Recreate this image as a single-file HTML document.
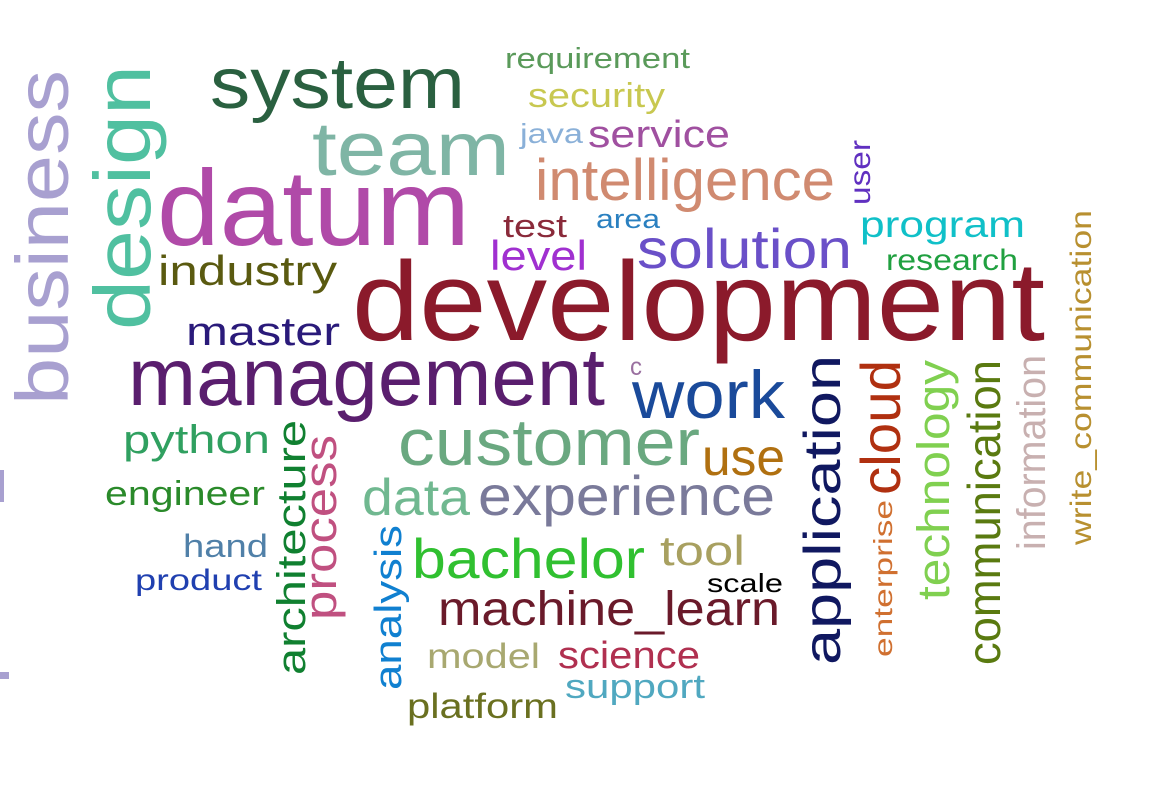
<!DOCTYPE html>
<html><head><meta charset="utf-8"><style>
html,body{margin:0;padding:0;background:#fff;}
svg{display:block;}
text{font-family:"Liberation Sans","DejaVu Sans",sans-serif;}
</style></head><body>
<svg id="cloud" width="1160" height="799" viewBox="0 0 1160 799">
<rect x="0" y="0" width="1160" height="799" fill="#fff"/>
<rect x="0" y="470" width="4" height="32" fill="#a8a0d0"/>
<rect x="0" y="672" width="9" height="7" fill="#a8a0d0"/>
</svg>
<script>
const words = ["development","management","datum","system","team","customer","experience","work","solution","intelligence","service","java","security","requirement","test","area","level","program","research","user","industry","master","business","design","python","engineer","hand","product","architecture","process","data","analysis","bachelor","machine_learn","model","science","support","platform","tool","scale","use","c","application","cloud","enterprise","technology","communication","information","write_communication"];
const sizes = [112,82,108,72,76,66,56,68,56,58,38,28,34,29,32,27,42,37,30,30,42,40,74,80,40,34,32,30,40,45,52,38,56,48,35,38,34,35,42,26,52,25,52,56,26,45,46,40,30];
const colors = ["#8b1a2b","#5a1e6e","#b04aa8","#2a6040","#7fb5a5","#6aa880","#7a7a9a","#1a4a9a","#6a50c8","#d08a70","#a050a0","#8ab0d8","#c8c850","#5a9a5a","#8a2a3a","#2a80c0","#a030d0","#10c0c8","#20a040","#6030c0","#5a5a10","#2a1a7a","#a8a0d0","#50c0a0","#30a060","#2a8a2a","#5080a8","#2040b0","#108030","#c05080","#70b890","#1080d0","#30c030","#6a1a2a","#a8a870","#b03050","#50a8c0","#6a7020","#a8a060","#000000","#b07010","#9a70a0","#101860","#b03010","#d07030","#80d050","#5a7a10","#c8b0b0","#b89030"];
const vertical = [0,0,0,0,0,0,0,0,0,0,0,0,0,0,0,0,0,0,0,1,0,0,1,1,0,0,0,0,1,1,0,1,0,0,0,0,0,0,0,0,0,0,1,1,1,1,1,1,1];
const anchorX = [352,128,157,210,312,398,478,632,637,535,588,520,528,505,503,596,490,860,886,870,158,186,68,150,123,105,183,135,305,336,362,401,412,438,427,558,565,407,660,707,702,630,840,900,892,949,1000,1045,1091];
const anchorY = [340,405,245,108,175,465,515,418,268,200,147,143,107,68,237,228,270,237,270,205,285,345,405,330,453,505,557,590,675,620,515,690,578,625,668,668,698,718,565,592,475,375,665,495,657,600,665,550,545];
const spans = [693,477,313,255,198,302,297,153,215,300,142,63,137,185,64,64,97,165,132,65,179,154,335,265,147,160,85,127,255,185,108,165,233,342,113,142,140,151,85,76,83,12,310,135,157,240,305,195,335];

const svg = document.getElementById('cloud');
const NS = 'http://www.w3.org/2000/svg';
for (let i = 0; i < words.length; i++) {
  const t = document.createElementNS(NS, 'text');
  t.textContent = words[i];
  t.setAttribute('font-size', sizes[i]);
  t.setAttribute('fill', colors[i]);
  t.setAttribute('textLength', spans[i]);
  t.setAttribute('lengthAdjust', 'spacingAndGlyphs');
  if (vertical[i]) {
    t.setAttribute('x', 0);
    t.setAttribute('y', 0);
    t.setAttribute('transform', 'translate(' + anchorX[i] + ',' + anchorY[i] + ') rotate(-90)');
  } else {
    t.setAttribute('x', anchorX[i]);
    t.setAttribute('y', anchorY[i]);
  }
  
  
  svg.appendChild(t);
}
</script>
</body></html>
